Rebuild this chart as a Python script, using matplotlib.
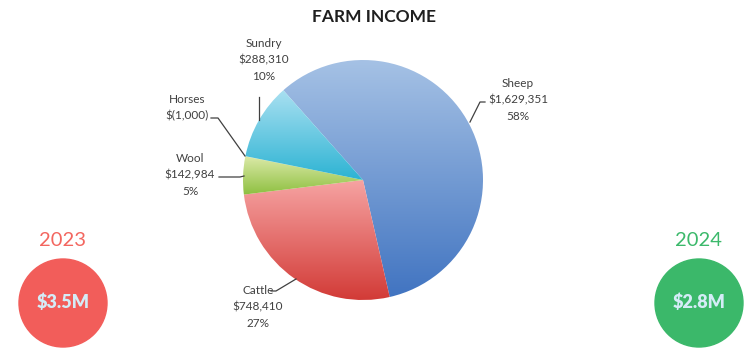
import numpy as np
import matplotlib
matplotlib.use("Agg")
import matplotlib.pyplot as plt
from matplotlib.colors import LinearSegmentedColormap

plt.rcParams['font.family'] = ['Lato', 'DejaVu Sans']

# farm income by source
sources = ['Sheep', 'Cattle', 'Wool', 'Horses', 'Sundry']
income = [1629351, 748410, 142984, -1000, 288310]
value_text = ['$1,629,351', '$748,410', '$142,984', '$(1,000)', '$288,310']
pct_text = ['58%', '27%', '5%', '', '10%']

# yearly totals shown in the badges
years = ['2023', '2024']
totals = ['$3.5M', '$2.8M']

# (bottom, top) gradient colours per slice
shades = [('#4174c1', '#a6c2e5'),
          ('#d23a36', '#f6a3a2'),
          ('#8dbf40', '#dceaa8'),
          ('#8dbf40', '#dceaa8'),
          ('#2cb3d3', '#a9e0f1')]

W, H = 748, 362
fig = plt.figure(figsize=(W / 100, H / 100), dpi=100)
ax = fig.add_axes([0, 0, 1, 1])

cx, cy, r = 363, H - 180, 120
wedges, _ = ax.pie([abs(v) for v in income], center=(cx, cy), radius=r,
                   startangle=131.6, counterclock=False,
                   wedgeprops=dict(linewidth=0))

grad = np.linspace(0, 1, 256).reshape(-1, 1)
for w, (lo, hi) in zip(wedges, shades):
    pts = w.get_patch_transform().transform(w.get_path().vertices)
    x0, y0 = pts.min(axis=0)
    x1, y1 = pts.max(axis=0)
    cmap = LinearSegmentedColormap.from_list('g', [lo, hi])
    im = ax.imshow(grad, cmap=cmap, extent=[x0, x1, y0, y1], origin='lower',
                   aspect='auto', zorder=2, interpolation='bilinear')
    im.set_clip_path(w)
    w.set_facecolor('none')

lab_kw = dict(fontsize=8.5, color='#404040', ha='center', va='center',
              linespacing=1.55)

def label(x, y, i):
    lines = [sources[i], value_text[i]] + ([pct_text[i]] if pct_text[i] else [])
    ax.text(x, H - y, '\n'.join(lines), **lab_kw)

def leader(xs, ys):
    ax.plot(xs, [H - y for y in ys], color='#404040', lw=0.9, zorder=3)

label(518, 100, 0)
leader([470, 480, 485], [122, 102, 102])
label(258, 307, 1)
leader([271, 276, 296], [291, 291, 279])
label(190, 175, 2)
leader([219, 240, 244], [177, 177, 176])
label(187, 108, 3)
leader([211, 218, 245], [118, 118, 156])
label(264, 60, 4)
leader([259, 259], [97, 120])

ax.text(W / 2, H - 17, 'FARM INCOME', ha='center', va='center',
        fontsize=12.5, fontweight='bold', color='#1f1f1f')

badge_x = [63, 699]
badge_fill = ['#f25d5a', '#3bb86a']
year_col = ['#f3665f', '#3cb96b']
for bx, yr, tot, fc, yc in zip(badge_x, years, totals, badge_fill, year_col):
    ax.add_patch(plt.Circle((bx, H - 303), 44, color=fc, zorder=2))
    ax.text(bx, H - 241, yr, ha='center', va='center', fontsize=14.5, color=yc)
    ax.text(bx, H - 302, tot, ha='center', va='center', fontsize=13,
            fontweight='heavy', color='#d4ecf7', zorder=3)

ax.set_xlim(0, W)
ax.set_ylim(0, H)
ax.set_aspect('equal')
ax.axis('off')
fig.savefig('out.png', dpi=100)
